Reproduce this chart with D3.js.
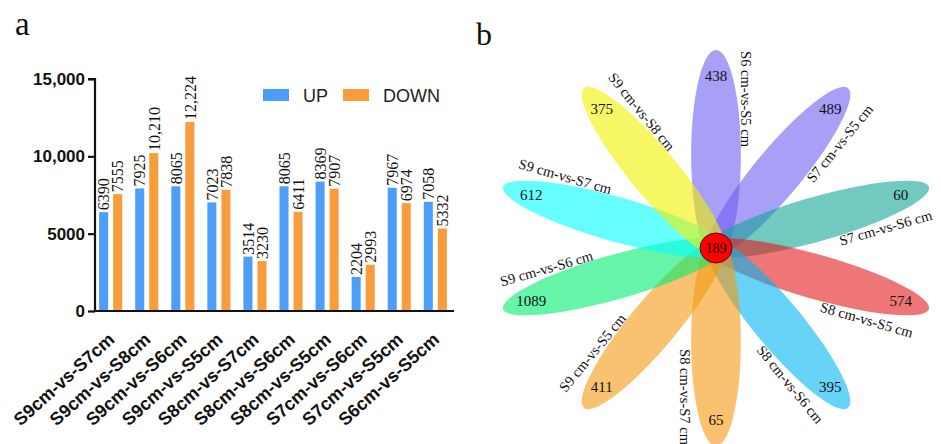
<!DOCTYPE html>
<html>
<head>
<meta charset="utf-8">
<script src="https://cdn.jsdelivr.net/npm/d3@7"></script>
<style>
  html, body { margin: 0; padding: 0; background: #fff; }
  svg { display: block; }
</style>
</head>
<body>
<svg id="chart" width="941" height="444"></svg>
<script>
// ---- Panel a: differentially expressed genes per comparison ----
const categories = ["S9cm-vs-S7cm", "S9cm-vs-S8cm", "S9cm-vs-S6cm", "S9cm-vs-S5cm", "S8cm-vs-S7cm",
                    "S8cm-vs-S6cm", "S8cm-vs-S5cm", "S7cm-vs-S6cm", "S7cm-vs-S5cm", "S6cm-vs-S5cm"];
const seriesNames = ["UP", "DOWN"];
const upValues   = [6390, 7925, 8065, 7023, 3514, 8065, 8369, 2204, 7967, 7058];
const downValues = [7555, 10210, 12224, 7838, 3230, 6411, 7907, 2993, 6974, 5332];
const yTicks = [0, 5000, 10000, 15000];
const yTickLabels = ["0", "5000", "10,000", "15,000"];

// ---- Panel b: flower diagram of shared / unique genes ----
const setNames = ["S6 cm-vs-S5 cm", "S7 cm-vs-S5 cm", "S7 cm-vs-S6 cm", "S8 cm-vs-S5 cm", "S8 cm-vs-S6 cm",
                  "S8 cm-vs-S7 cm", "S9 cm-vs-S5 cm", "S9 cm-vs-S6 cm", "S9 cm-vs-S7 cm", "S9 cm-vs-S8 cm"];
const uniqueCounts = [438, 489, 60, 574, 395, 65, 411, 1089, 612, 375];
const coreCount = 189;
const petalColors = ["#6e5ff0", "#6e5ff0", "#14a596", "#e41a1c", "#00b5f2",
                     "#f49a10", "#f49a10", "#00ec6e", "#00ffff", "#f2f200"];

const svg = d3.select("#chart");
const sans = "Arial, 'Liberation Sans', Helvetica, sans-serif";
const serif = "'Times New Roman', 'Liberation Serif', serif";

// panel letters
svg.append("text").attr("x", 15).attr("y", 35).attr("font-family", serif)
  .attr("font-size", 33).attr("fill", "#111").text("a");
svg.append("text").attr("x", 476).attr("y", 45).attr("font-family", serif)
  .attr("font-size", 32).attr("fill", "#111").text("b");

// ===== bar chart =====
const barColors = { UP: "#4c9ef8", DOWN: "#f99d3c" };
const x0 = d3.scaleBand().domain(categories).range([93, 453]).paddingInner(0.36).paddingOuter(0.17);
const x1 = d3.scaleBand().domain(seriesNames).range([0, x0.bandwidth()]).paddingInner(0.357);
const y = d3.scaleLinear().domain([0, 15000]).range([311, 79]);

const rows = categories.map((c, i) => ({ cat: c, UP: upValues[i], DOWN: downValues[i] }));
const fmt = v => v >= 10000 ? d3.format(",")(v) : String(v);

const gBars = svg.append("g");
const groups = gBars.selectAll("g.grp").data(rows).join("g")
  .attr("transform", d => `translate(${x0(d.cat)},0)`);
groups.selectAll("rect").data(d => seriesNames.map(s => ({ s, v: d[s] }))).join("rect")
  .attr("x", d => x1(d.s)).attr("width", x1.bandwidth())
  .attr("y", d => y(d.v)).attr("height", d => y(0) - y(d.v))
  .attr("fill", d => barColors[d.s]);
groups.selectAll("text").data(d => seriesNames.map(s => ({ s, v: d[s] }))).join("text")
  .attr("transform", d => `translate(${x1(d.s) + x1.bandwidth() / 2},${y(d.v) - 2}) rotate(-90)`)
  .attr("dy", "0.36em")
  .attr("font-family", serif).attr("font-size", 16).attr("fill", "#111")
  .text(d => fmt(d.v));

// y axis
const yAxis = d3.axisLeft(y).tickValues(yTicks).tickFormat((d, i) => yTickLabels[i]).tickSize(7).tickPadding(3);
const gy = svg.append("g").attr("transform", "translate(95,0)").call(yAxis);
gy.select(".domain").attr("stroke", "#111").attr("stroke-width", 2.2).attr("d", `M-7,${y(15000)}H0V${y(0)}`);
gy.selectAll(".tick line").attr("stroke", "#111").attr("stroke-width", 2.2);
gy.selectAll(".tick text").attr("font-family", sans).attr("font-weight", "bold")
  .attr("font-size", 17).attr("fill", "#111");

// x axis
const xAxis = d3.axisBottom(x0).tickSize(0).tickPadding(0);
const gx = svg.append("g").attr("transform", `translate(0,${y(0)})`).call(xAxis);
gx.select(".domain").attr("stroke", "#111").attr("stroke-width", 2.2).attr("d", "M95,0H454");
gx.selectAll(".tick text")
  .attr("font-family", sans).attr("font-weight", "bold").attr("font-size", 18).attr("fill", "#111")
  .attr("text-anchor", "end").attr("dy", null).attr("y", null)
  .attr("transform", "translate(5,30) rotate(-42)");

// legend
const legend = svg.append("g").attr("transform", "translate(263,89)");
const legendItems = legend.selectAll("g").data(seriesNames).join("g")
  .attr("transform", (d, i) => `translate(${i * 80},0)`);
legendItems.append("rect").attr("width", 26).attr("height", 12).attr("fill", d => barColors[d]);
legendItems.append("text").attr("x", 40).attr("y", 12.5)
  .attr("font-family", sans).attr("font-size", 18).attr("fill", "#222").text(d => d);

// ===== flower diagram =====
const cx = 716, cy = 248, sx = 1.13;          // flower centre and horizontal stretch
const petalOffset = 93, petalA = 105, petalB = 22;
const angles = setNames.map((_, i) => 90 - 36 * i);   // petal directions, degrees CCW
const toScreen = (ang, along, perp) => {
  const t = ang * Math.PI / 180;
  const ux = Math.cos(t), uy = Math.sin(t);
  // perp > 0 is the clockwise side of the petal
  const lx = along * ux + perp * uy, ly = along * uy - perp * ux;
  return [cx + lx * sx, cy - ly];
};
const petals = setNames.map((n, i) => ({ name: n, count: uniqueCounts[i], color: petalColors[i], ang: angles[i] }));

const gFlower = svg.append("g").attr("transform", `translate(${cx},${cy}) scale(${sx},1)`);
gFlower.selectAll("ellipse").data(petals).join("ellipse")
  .attr("transform", d => `rotate(${-d.ang}) translate(${petalOffset},0)`)
  .attr("rx", petalA).attr("ry", petalB)
  .attr("fill", d => d.color).attr("fill-opacity", 0.6);

// petal counts
svg.append("g").selectAll("text").data(petals).join("text")
  .attr("x", d => toScreen(d.ang, 172, 0)[0]).attr("y", d => toScreen(d.ang, 172, 0)[1])
  .attr("text-anchor", "middle").attr("dy", "0.35em")
  .attr("font-family", serif).attr("font-size", 15).attr("fill", "#111")
  .text(d => d.count);

// petal names
const screenAngle = ang => {
  const t = ang * Math.PI / 180;
  let a = -Math.atan2(Math.sin(t), Math.cos(t) * sx) * 180 / Math.PI;
  if (a > 90) a -= 180;
  if (a <= -90) a += 180;
  return a;
};
svg.append("g").selectAll("text").data(petals).join("text")
  .attr("transform", d => {
    const [px, py] = toScreen(d.ang, 149, 27);
    return `translate(${px},${py}) rotate(${screenAngle(d.ang)})`;
  })
  .attr("text-anchor", "middle").attr("dy", "0.35em")
  .attr("font-family", serif).attr("font-size", 14.5).attr("fill", "#111")
  .text(d => d.name);

// core
svg.append("ellipse").attr("cx", cx).attr("cy", cy).attr("rx", 16).attr("ry", 15)
  .attr("fill", "#f00").attr("stroke", "#6a0000").attr("stroke-width", 1);
svg.append("text").attr("x", cx).attr("y", cy).attr("dy", "0.35em").attr("text-anchor", "middle")
  .attr("font-family", serif).attr("font-size", 14).attr("fill", "#111").text(coreCount);
</script>
</body>
</html>
